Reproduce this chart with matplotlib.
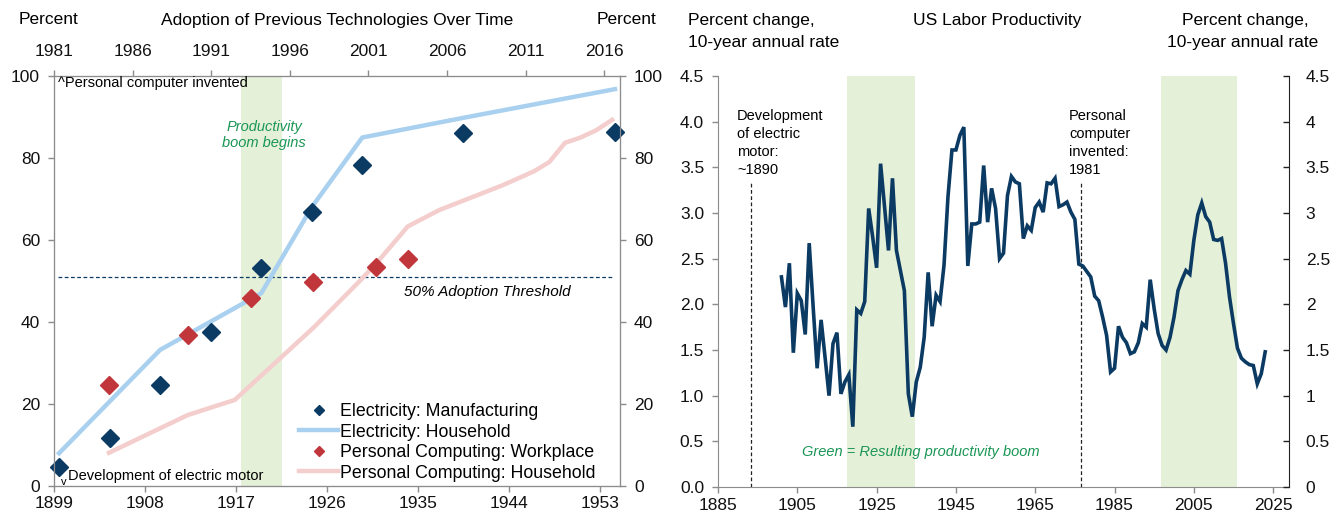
import matplotlib
matplotlib.use("Agg")
import matplotlib.pyplot as plt
from matplotlib.lines import Line2D
from matplotlib.ticker import FormatStrFormatter
import numpy as np

plt.rcParams["font.family"] = ["Liberation Sans", "DejaVu Sans"]

# ================== 数据 ==================
# 左图: 电力 (下轴年份) 与个人电脑 (上轴年份) 普及率, %
elec_mfg_years = [1899, 1904, 1909, 1914, 1919, 1924, 1929, 1939, 1954]
elec_mfg = [4.7, 11.6, 24.6, 37.6, 53.1, 66.9, 78.3, 86.0, 86.3]
elec_hh_years = [1899, 1904, 1909, 1914, 1919, 1924, 1929, 1939, 1954]
elec_hh = [8.0, 20.6, 33.2, 40.1, 47.0, 68.0, 85.0, 89.8, 96.8]
pc_work_years = [1984, 1989, 1993, 1997, 2001, 2003]
pc_work = [24.6, 36.8, 45.8, 49.8, 53.5, 55.4]
pc_hh_years = [1984, 1989, 1992, 1997, 2000, 2001, 2003, 2005, 2007, 2009,
               2011, 2012, 2013, 2014, 2015, 2016]
pc_hh = [8.1, 17.3, 21.0, 38.6, 50.2, 54.3, 63.3, 67.3, 70.3, 73.3,
         76.7, 79.0, 83.7, 85.0, 86.8, 89.3]
threshold = 51
boom_left = (1917.5, 1921.6)

# 右图: 美国劳动生产率, 10年年化变化率
prod_years = list(range(1901, 2024))
prod = [2.30, 1.97, 2.45, 1.47, 2.12, 2.04, 1.67, 2.67, 1.97, 1.30,
        1.83, 1.42, 1.00, 1.57, 1.69, 1.02, 1.15, 1.23, 0.66, 1.94,
        1.90, 2.03, 3.05, 2.74, 2.40, 3.54, 3.07, 2.59, 3.38, 2.59,
        2.37, 2.15, 1.02, 0.77, 1.15, 1.31, 1.64, 2.35, 1.76, 2.10,
        2.03, 2.43, 3.18, 3.69, 3.69, 3.85, 3.94, 2.42, 2.88, 2.88,
        2.90, 3.52, 2.90, 3.27, 3.05, 2.50, 2.56, 3.19, 3.40, 3.34,
        3.32, 2.72, 2.86, 2.81, 3.06, 3.12, 3.01, 3.33, 3.32, 3.38,
        3.07, 3.09, 3.12, 3.01, 2.93, 2.44, 2.42, 2.36, 2.30, 2.09,
        2.04, 1.86, 1.66, 1.26, 1.30, 1.76, 1.64, 1.58, 1.46, 1.48,
        1.58, 1.79, 1.75, 2.27, 1.95, 1.68, 1.55, 1.50, 1.64, 1.86,
        2.15, 2.27, 2.37, 2.33, 2.70, 2.98, 3.11, 2.96, 2.90, 2.71,
        2.70, 2.72, 2.45, 2.08, 1.79, 1.52, 1.41, 1.37, 1.34, 1.33,
        1.13, 1.24, 1.48]
booms_right = [(1917.6, 1934.6), (1996.8, 2015.8)]
events_right = [1893.4, 1976.6]

# ================== 样式 ==================
NAVY = "#0b3a63"
RED = "#c1363b"
LBLUE = "#a9d1ef"
PINK = "#f4cdcd"
GREEN_BG = "#e5f0d8"
GREEN_TXT = "#1a9655"
GRAY = "#8c8c8c"
FS = 12.5
W, H = 1343, 517

fig = plt.figure(figsize=(W / 100, H / 100), dpi=100)


def fx(x):
    return x / W


def fy(y):
    return 1 - y / H


def style_ticks(a, axis, color=GRAY, direction="out", pad=4):
    a.tick_params(axis=axis, direction=direction, length=4, width=1, color=color,
                  labelsize=FS, labelcolor="#111111", pad=pad)


# ---------------- 左图 ----------------
ax = fig.add_axes([fx(54), fy(486), fx(620 - 54), (486 - 76) / H])
ax.set_xlim(1899, 1955)
ax.set_ylim(0, 100)
ax.set_xticks(range(1899, 1954, 9))
ax.set_yticks(range(0, 101, 20))
style_ticks(ax, "x", pad=3)
style_ticks(ax, "y", pad=6)

axr = ax.twinx()
axr.set_ylim(0, 100)
axr.set_yticks(range(0, 101, 20))
style_ticks(axr, "y", pad=6)

axt = ax.twiny()
axt.set_xlim(1981, 2017)
axt.set_xticks(range(1981, 2017, 5))
style_ticks(axt, "x", pad=8)

for a in (ax, axr, axt):
    for s in a.spines.values():
        s.set_color(GRAY)

ax.axvspan(*boom_left, color=GREEN_BG, lw=0, zorder=0)
ax.axhline(threshold, xmin=0.007, xmax=0.99, color=NAVY, lw=0.9, ls=(0, (3, 2)), zorder=1)

ax.plot(np.array(elec_hh_years) + 0.5, elec_hh, color=LBLUE, lw=3.2, zorder=2)
axt.plot(np.array(pc_hh_years) + 0.5, pc_hh, color=PINK, lw=3.2, zorder=2)
ax.plot(np.array(elec_mfg_years) + 0.5, elec_mfg, ls="none", marker="D", ms=9,
        color=NAVY, zorder=3, clip_on=False)
axt.plot(np.array(pc_work_years) + 0.5, pc_work, ls="none", marker="D", ms=9,
         color=RED, zorder=3, clip_on=False)

handles = [
    Line2D([], [], ls="none", marker="D", ms=5, color=NAVY),
    Line2D([], [], color=LBLUE, lw=3.2),
    Line2D([], [], ls="none", marker="D", ms=5, color=RED),
    Line2D([], [], color=PINK, lw=3.2),
]
labels = ["Electricity: Manufacturing", "Electricity: Household",
          "Personal Computing: Workplace", "Personal Computing: Household"]
axt.legend(handles, labels, loc="upper left", bbox_to_anchor=(fx(299), fy(403)),
           bbox_transform=fig.transFigure, frameon=False, fontsize=12.8,
           borderpad=0, borderaxespad=0, handlelength=2.2, handletextpad=0.1,
           labelspacing=0.2)

fig.text(fx(58), fy(83), "^Personal computer invented", fontsize=10.5, va="center")
fig.text(fx(61), fy(482), "v", fontsize=8, va="center")
fig.text(fx(68), fy(476), "Development of electric motor", fontsize=10.5, va="center")
fig.text(fx(264), fy(135), "Productivity\nboom begins", fontsize=10.5, style="italic",
         color=GREEN_TXT, ha="center", va="center", linespacing=1.25)
fig.text(fx(487), fy(292), "50% Adoption Threshold", fontsize=11, style="italic",
         ha="center", va="center")

fig.text(fx(48), fy(20), "Percent", fontsize=FS, ha="center", va="center")
fig.text(fx(337), fy(20), "Adoption of Previous Technologies Over Time", fontsize=FS,
         ha="center", va="center")
fig.text(fx(626), fy(20), "Percent", fontsize=FS, ha="center", va="center")

# ---------------- 右图 ----------------
ax2 = fig.add_axes([fx(718), fy(487), fx(1289 - 718), (487 - 76) / H])
ax2.set_xlim(1885, 2029)
ax2.set_ylim(0, 4.5)
ax2.set_xticks(range(1885, 2026, 20))
ax2.set_yticks(np.arange(0, 4.51, 0.5))
ax2.yaxis.set_major_formatter(FormatStrFormatter("%.1f"))
style_ticks(ax2, "x", pad=4)
style_ticks(ax2, "y", pad=6)
ax2.spines["top"].set_visible(False)
ax2.spines["right"].set_visible(False)
ax2.spines["left"].set_color(GRAY)
ax2.spines["bottom"].set_color(GRAY)

ax2r = ax2.twinx()
ax2r.set_ylim(0, 4.5)
ax2r.set_yticks(np.arange(0, 4.51, 0.5))
ax2r.yaxis.set_major_formatter(FormatStrFormatter("%g"))
style_ticks(ax2r, "y", color="#222222", direction="in", pad=12)
for k in ("top", "left", "bottom"):
    ax2r.spines[k].set_visible(False)
ax2r.spines["right"].set_color("#222222")

for b0, b1 in booms_right:
    ax2.axvspan(b0, b1, ymin=-0.003, color=GREEN_BG, lw=0, zorder=0)
for ev in events_right:
    ax2.plot([ev, ev], [0, 3.34], color="#222222", lw=0.9, ls=(0, (3, 2)), zorder=1)

ax2.plot(prod_years, prod, color=NAVY, lw=2.6, zorder=3, solid_joinstyle="miter")

fig.text(fx(737), fy(143), "Development\nof electric\nmotor:\n~1890", fontsize=10.5,
         va="center", ha="left", linespacing=1.35)
fig.text(fx(1069), fy(143), "Personal\ncomputer\ninvented:\n1981", fontsize=10.5,
         va="center", ha="left", linespacing=1.35)
fig.text(fx(802), fy(452), "Green = Resulting productivity boom", fontsize=10.5,
         style="italic", color=GREEN_TXT, va="center")

fig.text(fx(688), fy(20), "Percent change,", fontsize=FS, va="center")
fig.text(fx(688), fy(42), "10-year annual rate", fontsize=FS, va="center")
fig.text(fx(997), fy(20), "US Labor Productivity", fontsize=FS, ha="center", va="center")
fig.text(fx(1309), fy(20), "Percent change,", fontsize=FS, ha="right", va="center")
fig.text(fx(1318), fy(42), "10-year annual rate", fontsize=FS, ha="right", va="center")

fig.savefig("out.png", dpi=100)
plt.close(fig)
